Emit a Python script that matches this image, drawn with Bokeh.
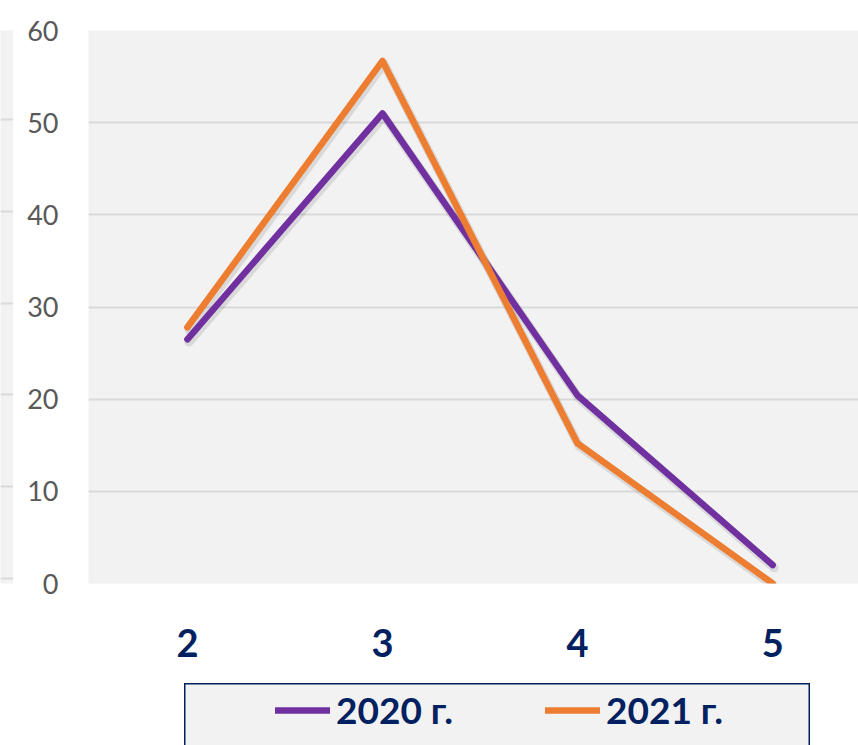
from bokeh.plotting import figure
from bokeh.models import (Range1d, FixedTicker, Legend, LegendItem, Grid, Spacer)
from bokeh.layouts import row, column
from bokeh.transform import dodge
from bokeh.embed import file_html
from bokeh.resources import INLINE

grades = [2, 3, 4, 5]
y2020 = [26.5, 51.0, 20.4, 2.0]
y2021 = [27.8, 56.7, 15.2, 0.0]
series_labels = ["2020 г.", "2021 г."]
y_ticks = [0, 10, 20, 30, 40, 50, 60]

PURPLE = "#7030A0"
ORANGE = "#ED7D31"
NAVY = "#002060"
GRID = "#D9D9D9"
PANEL = "#F2F2F2"

src = {"x": grades, "a": y2020, "b": y2021}

TOP_H = 683
FRAME_TOP = 30
FRAME_BOTTOM = 583

# narrow strip of a neighbouring chart at the left edge (its grid sits ~3-5px higher)
s = figure(width=13, height=TOP_H, output_backend="svg", toolbar_location=None,
           x_range=Range1d(0, 1), y_range=Range1d(-0.544, 59.673),
           x_axis_location=None, y_axis_location=None,
           min_border_left=0, min_border_right=0, min_border_top=FRAME_TOP,
           min_border_bottom=TOP_H - FRAME_BOTTOM)
s.background_fill_color = PANEL
s.outline_line_color = None
for g in list(s.grid):
    g.grid_line_color = None
s.add_layout(Grid(dimension=1, ticker=FixedTicker(ticks=y_ticks),
                  grid_line_color=GRID, grid_line_width=2))

p = figure(width=845, height=TOP_H, output_backend="svg", toolbar_location=None,
           x_range=Range1d(1.493, 5.44), y_range=Range1d(0, 60),
           min_border_left=75, min_border_right=0, min_border_top=FRAME_TOP,
           min_border_bottom=TOP_H - FRAME_BOTTOM)
p.background_fill_color = PANEL
p.border_fill_color = "white"
p.outline_line_color = None

p.xgrid.grid_line_color = None
p.ygrid.grid_line_color = GRID
p.ygrid.grid_line_width = 2

p.xaxis.ticker = FixedTicker(ticks=grades)
p.xaxis.axis_line_color = None
p.xaxis.major_tick_line_color = None
p.xaxis.minor_tick_line_color = None
p.xaxis.major_tick_out = 0
p.xaxis.major_label_standoff = 45
p.xaxis.major_label_text_font = "Lato"
p.xaxis.major_label_text_font_style = "bold"
p.xaxis.major_label_text_font_size = "38px"
p.xaxis.major_label_text_color = NAVY

p.yaxis.ticker = FixedTicker(ticks=y_ticks)
p.yaxis.axis_line_color = None
p.yaxis.major_tick_line_color = None
p.yaxis.minor_tick_line_color = None
p.yaxis.major_tick_out = 0
p.yaxis.major_label_standoff = 30
p.yaxis.major_label_text_font = "Lato"
p.yaxis.major_label_text_font_size = "27px"
p.yaxis.major_label_text_color = "#595959"

# soft drop shadows
for col in ("a", "b"):
    p.line(x=dodge("x", 0.008, range=p.x_range), y=dodge(col, -0.3, range=p.y_range),
           source=src, line_color="black", line_alpha=0.1, line_width=9,
           line_cap="round", line_join="round")

p.line("x", "a", source=src, line_color=PURPLE, line_width=6.5,
       line_cap="round", line_join="round")
p.line("x", "b", source=src, line_color=ORANGE, line_width=6.5,
       line_cap="round", line_join="round")

# legend panel
LEG_H = 70
lf = figure(width=626, height=LEG_H, output_backend="svg", toolbar_location=None,
            x_range=Range1d(0, 1), y_range=Range1d(0, 1),
            x_axis_location=None, y_axis_location=None,
            min_border_left=0, min_border_right=0, min_border_top=0,
            min_border_bottom=0)
lf.background_fill_color = PANEL
lf.outline_line_color = NAVY
lf.outline_line_width = 2
for g in list(lf.grid):
    g.grid_line_color = None
# same series drawn outside this panel's ranges; they only feed the legend glyphs
l1 = lf.line("x", "a", source=src, line_color=PURPLE, line_width=6.5, line_cap="round")
l2 = lf.line("x", "b", source=src, line_color=ORANGE, line_width=6.5, line_cap="round")

legend = Legend(items=[LegendItem(label=series_labels[0], renderers=[l1]),
                       LegendItem(label=series_labels[1], renderers=[l2])],
                orientation="horizontal", location=(91, LEG_H - 31 - 18),
                margin=0, padding=0, spacing=79,
                glyph_width=55, glyph_height=36, label_height=36,
                label_width=130, label_standoff=6,
                label_text_font="Lato", label_text_font_style="bold",
                label_text_font_size="37px", label_text_color=NAVY,
                border_line_color=None, background_fill_alpha=0)
lf.add_layout(legend)

layout = column(row(s, p, spacing=0),
                row(Spacer(width=184, height=LEG_H), lf, spacing=0),
                spacing=0)
open("out.html", "w").write(file_html(layout, INLINE))
